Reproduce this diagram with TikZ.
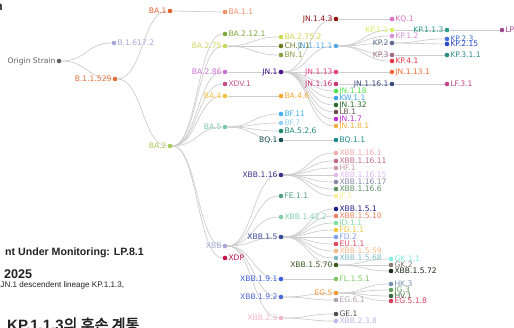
\documentclass[tikz,border=0pt]{standalone}
\usepackage{fontspec}
\setmainfont{Liberation Sans}
\newfontfamily\treefont{DejaVu Sans}
\newfontfamily\krfont[AutoFakeBold=2.5]{Noto Sans CJK KR}
\usetikzlibrary{backgrounds}
\definecolor{lineGray}{HTML}{CDCDCD}
\definecolor{slideInk}{HTML}{222222}
\begin{document}
\begin{tikzpicture}
[x=1pt,y=-1pt,
  lineDecorate/.style={draw=lineGray,line width=0.7pt,
    to path={.. controls ([xshift=27.5pt]\tikztostart) and ([xshift=-27.5pt]\tikztotarget) .. (\tikztotarget)}},
  nodeDecorate/.style={shape=circle,inner sep=0pt,minimum size=4.6pt,fill=nodeColor},
  labelDecorate/.style={font=\treefont\fontsize{7.6}{8}\selectfont,inner sep=0.8pt,text=nodeColor},
  slideText/.style={inner sep=0pt,text=slideInk}]
\useasboundingbox (0,0) rectangle (514,327);
\clip (0,0) rectangle (514,327);
%% lineages
\foreach \nodename/\x/\y/\side/\lbl/\col in {
  o/59/61/left/Origin Strain/606060, b16172/114/43/right/B.1.617.2/A8A8D8,
  b11529/115/79/left/B.1.1.529/E07038,
  ba1/170/11/left/BA.1/E06030, ba2/170/146/left/BA.2/A8CC58,
  ba11/225/12/right/BA.1.1/F0906A, ba2121/225/34/right/BA.2.12.1/7AAA3C,
  ba275/225/46/left/BA.2.75/C8D860, ba286/225/72/left/BA.2.86/D070D8,
  xdv1/225/84/right/XDV.1/C8508A, ba4/225/96/left/BA.4/F8C040,
  ba5/225/127/left/BA.5/80C8A8, xbb/225/246/left/XBB/A8A8D8,
  xdp/225/258/right/XDP/C0144A,
  ba2752/281/37/right/BA.2.75.2/C8D850, ch11/281/46/right/CH.1.1/6A7A20,
  bn1/281/55/right/BN.1/88A040, jn1/281/72/left/JN.1/4A1090,
  ba46/281/96/right/BA.4.6/F8A830, bf11/281/114/right/BF.11/40B0F0,
  bf7/281/123/right/BF.7/90D0F8, ba526/281/131/right/BA.5.2.6/208A70,
  bq1/281/140/left/BQ.1/1A5050, xbb116/281/175/left/XBB.1.16/40308A,
  fe11/281/196/right/FE.1.1/50A080, xbb1422/281/217/right/XBB.1.42.2/80D0A8,
  xbb15/281/237/left/XBB.1.5/3A4A9A, xbb191/281/279/left/XBB.1.9.1/4060E0,
  xbb192/281/297/left/XBB.1.9.2/4A68D8, xbb23/281/318/left/XBB.2.3/F4B8C8,
  jn143/336/19/left/JN.1.4.3/901010, jn1111/336/46/left/JN.1.11.1/58A8E8,
  jn113/336/72/left/JN.1.13/E84080, jn116/336/84/left/JN.1.16/C83878,
  jn118/336/91/right/JN.1.18/50E050, kw11/336/98/right/KW.1.1/40A0E8,
  jn132/336/105/right/JN.1.32/2A6A2A, lb1/336/112/right/LB.1/6A5048,
  jn17/336/119/right/JN.1.7/C030D0, jn181/336/126/right/JN.1.8.1/F0B040,
  bq11/336/140/right/BQ.1.1/1A8A8A,
  xbb1161/336/153/right/XBB.1.16.1/F0A8A8, xbb11611/336/161/right/XBB.1.16.11/C06A88,
  hf1/336/168/right/HF.1/C898A8, xbb11615/336/175/right/XBB.1.16.15/E0B8F0,
  xbb11617/336/182/right/XBB.1.16.17/8888A8, xbb1166/336/189/right/XBB.1.16.6/609060,
  jf1/336/196/right/JF.1/F8F0A0,
  xbb151/336/209/right/XBB.1.5.1/202080, xbb1510/336/216/right/XBB.1.5.10/F08060,
  jd11/336/223/right/JD.1.1/80E0A0, fd11/336/230/right/FD.1.1/F0C840,
  fd2/336/237/right/FD.2/80A0F0, eu11/336/244/right/EU.1.1/E04860,
  xbb1559/336/251/right/XBB.1.5.59/F8B888, xbb1568/336/258/right/XBB.1.5.68/80B8C8,
  xbb1570/336/265/left/XBB.1.5.70/3A5A20, fl151/336/279/right/FL.1.5.1/80C860,
  eg5/336/293/left/EG.5/F09830, eg61/336/300/right/EG.6.1/B0A0B0,
  ge1/336/314/right/GE.1/505050, xbb238/336/321/right/XBB.2.3.8/B8B8E8,
  kq1/392/19/right/KQ.1/E070C0, kp11/392/30/left/KP.1.1/D8F060,
  kp12/392/36/right/KP.1.2/D890D8, kp2/392/43/left/KP.2/5A6A90,
  kp3/392/55/left/KP.3/A06A88, kp41/392/61/right/KP.4.1/E83848,
  jn1131/392/72/right/JN.1.13.1/F06A30, jn1161/392/84/left/JN.1.16.1/3A4A80,
  gk11/391/259/right/GK.1.1/80F0E0, gk2/391/265/right/GK.2/8A7A70,
  xbb1572/391/271/right/XBB.1.5.72/1A2A1A, hk3/391/284/right/HK.3/7890B0,
  jg3/391/290/right/JG.3/60A060, hv1/391/296/right/HV.1/3A6A3A,
  eg518/391/301/right/EG.5.1.8/D84060,
  kp113/447/30/left/KP.1.1.3/2A9A8A, kp23/447/39/right/KP.2.3/4070D8,
  kp215/447/44/right/KP.2.15/2848C8, kp311/447/55/right/KP.3.1.1/2A8A88,
  lf31/447/84/right/LF.3.1/C04888, lp81/502/30/right/LP.8.1/A04890}
{
  \definecolor{nodeColor}{HTML}{\col}
  \node (\nodename) at (\x,\y) [nodeDecorate,
    label={[labelDecorate]\side:\lbl}] {};
}
%% descent lines
\begin{pgfonlayer}{background}
\path
\foreach \startnode/\endnode in {
  o/b16172, o/b11529, b11529/ba1, b11529/ba2, ba1/ba11,
  ba2/ba2121, ba2/ba275, ba2/ba286, ba2/xdv1, ba2/ba4, ba2/ba5, ba2/xbb, ba2/xdp,
  ba275/ba2752, ba275/ch11, ba275/bn1, ba286/jn1, ba4/ba46,
  ba5/bf11, ba5/bf7, ba5/ba526, ba5/bq1, bq1/bq11,
  xbb/xbb116, xbb/fe11, xbb/xbb1422, xbb/xbb15, xbb/xbb191, xbb/xbb192, xbb/xbb23,
  jn1/jn143, jn1/jn1111, jn1/jn113, jn1/jn116, jn1/jn118, jn1/kw11,
  jn1/jn132, jn1/lb1, jn1/jn17, jn1/jn181,
  jn143/kq1, jn1111/kp11, jn1111/kp12, jn1111/kp2, jn1111/kp3, jn1111/kp41,
  jn113/jn1131, jn116/jn1161, kp11/kp113, kp113/lp81, kp2/kp23, kp2/kp215,
  kp3/kp311, jn1161/lf31,
  xbb116/xbb1161, xbb116/xbb11611, xbb116/hf1, xbb116/xbb11615,
  xbb116/xbb11617, xbb116/xbb1166, xbb116/jf1,
  xbb15/xbb151, xbb15/xbb1510, xbb15/jd11, xbb15/fd11, xbb15/fd2,
  xbb15/eu11, xbb15/xbb1559, xbb15/xbb1568, xbb15/xbb1570,
  xbb1570/gk11, xbb1570/gk2, xbb1570/xbb1572, xbb191/fl151,
  xbb192/eg5, xbb192/eg61, eg5/hk3, eg5/jg3, eg5/hv1, eg5/eg518,
  xbb23/ge1, xbb23/xbb238}
{
  (\startnode) edge[lineDecorate] (\endnode)
};
\end{pgfonlayer}
%% slide text over the tree
\node (head) [slideText,anchor=base east,font=\bfseries\fontsize{12}{14}\selectfont]
  at (3,10) {n};
\node (mon) [slideText,anchor=base east,font=\bfseries\fontsize{10.6}{12}\selectfont]
  at (144,255) {nt Under Monitoring: LP.8.1};
\node (yr) [slideText,anchor=base west,font=\bfseries\fontsize{12.6}{14}\selectfont]
  at (4,278) {2025};
\node (desc) [slideText,anchor=base west,font=\fontsize{8.1}{10}\selectfont]
  at (0.3,287.5) {JN.1 descendent lineage KP.1.1.3,};
\node (title) [slideText,anchor=base west,font=\bfseries\fontsize{15}{17}\selectfont]
  at (7,330) {KP.1.1.3{\krfont 의 후손 계통}};
\end{tikzpicture}
\end{document}
